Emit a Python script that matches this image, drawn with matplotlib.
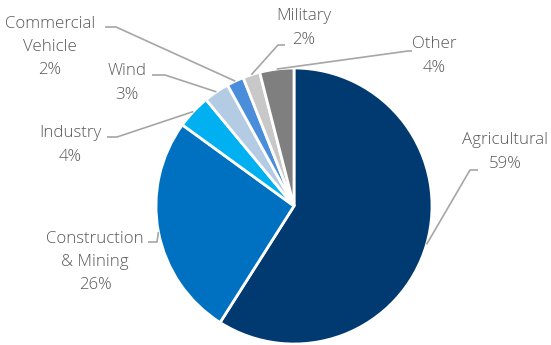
import numpy as np
import matplotlib.pyplot as plt

# ---- DATA ----
labels = ['Agricultural', 'Construction\n& Mining', 'Industry', 'Wind',
          'Commercial\nVehicle', 'Military', 'Other']
shares = [59, 26, 4, 3, 2, 2, 4]
colors = ['#003A70', '#0070C0', '#00B0F0', '#B4CBE4', '#4A8EDB', '#C8C8C8', '#7F7F7F']

# label layout (pixel coords, y up), elbow of leader line, text anchor side
text_pos = [(505, 193), (95, 83), (70, 200), (127, 262), (50, 298), (304, 317), (434, 289)]
elbows = [(470, 175), (157, 103), (117, 208), (165, 270), (116, 318), (278, 300), (408, 294)]
line_start = [(478, 175), (148, 103), (107, 208), (152, 270), (105, 318), (285, 300), (412, 294)]

W, H = 551, 345
cx, cy, r = 294, 139, 138

fig = plt.figure(figsize=(W / 100, H / 100), dpi=100)
ax = fig.add_axes([0, 0, 1, 1])

wedges, _ = ax.pie(shares, colors=colors, startangle=90, counterclock=False,
                   center=(cx, cy), radius=r, frame=True,
                   wedgeprops=dict(edgecolor='white', linewidth=2))
ax.set_xlim(0, W)
ax.set_ylim(0, H)
ax.set_aspect('equal')
ax.axis('off')

total = sum(shares)
cum = 0
for i, (lab, val) in enumerate(zip(labels, shares)):
    mid = 90 - (cum + val / 2) / total * 360
    cum += val
    ex = cx + r * np.cos(np.radians(mid))
    ey = cy + r * np.sin(np.radians(mid))
    sx, sy = line_start[i]
    bx, by = elbows[i]
    ax.plot([sx, bx, ex], [sy, by, ey], color='#A6A6A6', lw=1.2, solid_capstyle='butt')
    ax.text(text_pos[i][0], text_pos[i][1], f'{lab}\n{val}%', ha='center', va='center',
            fontsize=12.2, color='#595959', family='Open Sans', weight='light',
            linespacing=1.62)

fig.savefig('out.png', dpi=100)
